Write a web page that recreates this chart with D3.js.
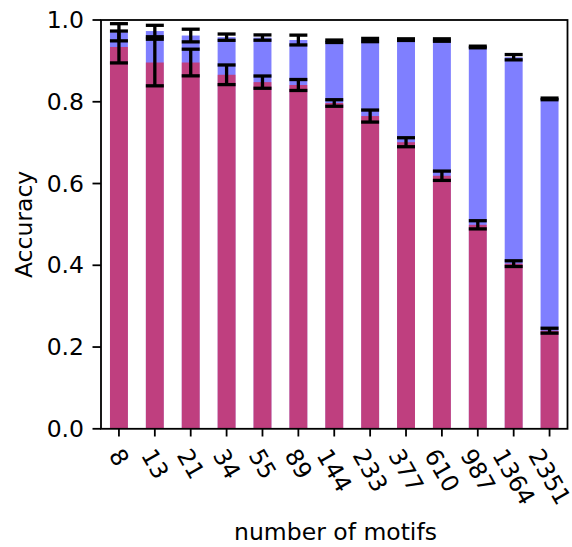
<!DOCTYPE html>
<html>
<head>
<meta charset="utf-8">
<script src="https://cdn.jsdelivr.net/npm/d3@7"></script>
<style>
  html, body { margin: 0; padding: 0; background: #fff; }
  svg { display: block; font-family: "DejaVu Sans", sans-serif; }
</style>
</head>
<body>
<svg id="chart" width="572" height="547"></svg>
<script>
const categories = ["8","13","21","34","55","89","144","233","377","610","987","1364","2351"];
const blueValues = [0.970, 0.973, 0.962, 0.958, 0.957, 0.951, 0.948, 0.951, 0.952, 0.951, 0.934, 0.909, 0.807];
const blueErrors = [0.021, 0.014, 0.0155, 0.0077, 0.0065, 0.012, 0.003, 0.004, 0.002, 0.003, 0.002, 0.0065, 0.002];
const redValues  = [0.934, 0.896, 0.896, 0.866, 0.848, 0.841, 0.797, 0.765, 0.701, 0.619, 0.499, 0.404, 0.240];
const redErrors  = [0.039, 0.057, 0.0326, 0.024, 0.015, 0.0134, 0.008, 0.0147, 0.011, 0.0114, 0.010, 0.007, 0.006];
const yTicks = [0.0, 0.2, 0.4, 0.6, 0.8, 1.0];
const xLabel = "number of motifs";
const yLabel = "Accuracy";

(function () {
const svg = d3.select("#chart");
const pL = 101, pR = 567.5, pT = 20, pB = 428.8;
const fs = 23.5;
const tickLen = 8.5;

const x = d3.scaleLinear().domain([-0.5, categories.length - 0.5]).range([pL, pR]);
const y = d3.scaleLinear().domain([0, 1]).range([pB, pT]);
const bw = x(0.5) - x(0);

const g = svg.append("g");

// blue bars
g.selectAll("rect.blue").data(blueValues).enter().append("rect")
  .attr("class", "blue")
  .attr("x", (d, i) => x(i) - bw / 2)
  .attr("width", bw)
  .attr("y", d => y(d))
  .attr("height", d => y(0) - y(d))
  .attr("fill", "blue").attr("fill-opacity", 0.5);

// red bars
g.selectAll("rect.red").data(redValues).enter().append("rect")
  .attr("class", "red")
  .attr("x", (d, i) => x(i) - bw / 2)
  .attr("width", bw)
  .attr("y", d => y(d))
  .attr("height", d => y(0) - y(d))
  .attr("fill", "red").attr("fill-opacity", 0.5);

// error bars
function drawErr(vals, errs) {
  const cap = 9;
  vals.forEach((v, i) => {
    const cx = x(i), lo = y(v - errs[i]), hi = y(v + errs[i]);
    g.append("line").attr("x1", cx).attr("x2", cx).attr("y1", lo).attr("y2", hi)
      .attr("stroke", "#000").attr("stroke-width", 3.3);
    [lo, hi].forEach(yy => {
      g.append("line").attr("x1", cx - cap).attr("x2", cx + cap).attr("y1", yy).attr("y2", yy)
        .attr("stroke", "#000").attr("stroke-width", 3.3);
    });
  });
}
drawErr(blueValues, blueErrors);
drawErr(redValues, redErrors);

// spines
const sw = 1.8;
svg.append("rect").attr("x", pL).attr("y", pT).attr("width", pR - pL).attr("height", pB - pT)
  .attr("fill", "none").attr("stroke", "#000").attr("stroke-width", sw);

// y axis ticks
const yt = svg.append("g");
yTicks.forEach(t => {
  yt.append("line").attr("x1", pL - tickLen).attr("x2", pL).attr("y1", y(t)).attr("y2", y(t))
    .attr("stroke", "#000").attr("stroke-width", sw);
  yt.append("text").attr("x", 84).attr("y", y(t))
    .attr("text-anchor", "end").attr("dominant-baseline", "central")
    .attr("font-size", fs).attr("fill", "#000").text(t.toFixed(1));
});

// x axis ticks + rotated labels
const xt = svg.append("g");
const ang = 60 * Math.PI / 180;
const h = fs * 1.16;
categories.forEach((c, i) => {
  const cx = x(i);
  xt.append("line").attr("x1", cx).attr("x2", cx).attr("y1", pB).attr("y2", pB + 7.7)
    .attr("stroke", "#000").attr("stroke-width", sw);
  const t = xt.append("text").attr("text-anchor", "middle").attr("dominant-baseline", "central")
    .attr("font-size", fs).attr("fill", "#000").text(c);
  const w = t.node().getComputedTextLength();
  const bh = w * Math.sin(ang) + h * Math.cos(ang);
  const cy = pB + 7.7 + 7.7 + bh / 2;
  t.attr("x", cx).attr("y", cy).attr("transform", `rotate(60,${cx},${cy})`);
});

// axis labels
svg.append("text").attr("x", 335.5).attr("y", 540)
  .attr("text-anchor", "middle").attr("font-size", fs).attr("fill", "#000").text(xLabel);
svg.append("text").attr("transform", `translate(24,${(pT + pB) / 2}) rotate(-90)`)
  .attr("text-anchor", "middle").attr("dominant-baseline", "central")
  .attr("font-size", fs).attr("fill", "#000").text(yLabel);
})();
</script>
</body>
</html>
